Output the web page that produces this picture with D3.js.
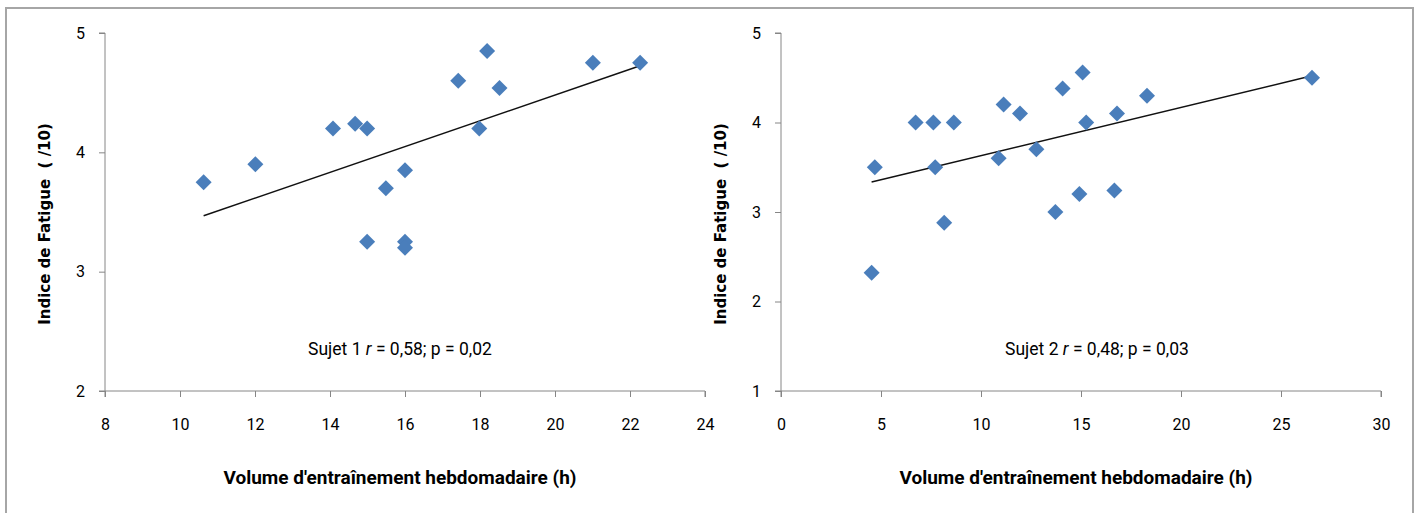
<!DOCTYPE html>
<html>
<head>
<meta charset="utf-8">
<script src="https://cdn.jsdelivr.net/npm/d3@7"></script>
<style>
  html, body { margin: 0; padding: 0; background: #fff; }
  .tick text { font-family: "Liberation Sans Narrow", "Roboto", sans-serif; font-size: 16px; fill: #000; }
</style>
</head>
<body>
<div id="chart"></div>
<script>
// Sujet 1
var volume1 = [10.63, 12.01, 14.08, 14.67, 14.99, 14.99, 15.49, 16.0, 16.0, 16.0, 17.42, 18.19, 18.52, 17.98, 21.01, 22.27]
var fatigue1 = [3.75, 3.90, 4.20, 4.24, 4.20, 3.25, 3.70, 3.85, 3.25, 3.20, 4.60, 4.85, 4.54, 4.20, 4.75, 4.75]
var xTicks1 = [8, 10, 12, 14, 16, 18, 20, 22, 24]
var yTicks1 = [2, 3, 4, 5]

// Sujet 2
var volume2 = [4.53, 4.69, 6.73, 7.62, 8.64, 7.71, 8.16, 10.88, 11.13, 11.95, 12.77, 13.72, 14.08, 14.92, 15.08, 15.26, 16.67, 16.80, 18.30, 26.55]
var fatigue2 = [2.32, 3.50, 4.00, 4.00, 4.00, 3.50, 2.88, 3.60, 4.20, 4.10, 3.70, 3.00, 4.38, 3.20, 4.56, 4.00, 3.24, 4.10, 4.30, 4.50]
var xTicks2 = [0, 5, 10, 15, 20, 25, 30]
var yTicks2 = [1, 2, 3, 4, 5]

var xTitle = "Volume d'entraînement hebdomadaire (h)"
var yTitle = "Indice de Fatigue  ( /10)"
var notes = [
    {label: "Sujet 1 ", r: "0,58", p: "0,02"},
    {label: "Sujet 2 ", r: "0,48", p: "0,03"}
]

const W = 1422, H = 513
const axisColor = "#868686"
const dotColor = "#4a7ebb"

var svg = d3.select("#chart").append("svg")
    .attr("width", W)
    .attr("height", H)

// outer frame (bottom edge sits below the picture)
svg.append("rect")
    .attr("x", 6).attr("y", 8)
    .attr("width", 1407).attr("height", 520)
    .attr("fill", "none")
    .attr("stroke", "#a6a6a6")
    .attr("stroke-width", 2)

function panel(opt) {
    var xScale = d3.scaleLinear().domain(opt.xDomain).range([opt.left, opt.right])
    var yScale = d3.scaleLinear().domain(opt.yDomain).range([opt.bottom, opt.top])

    var g = svg.append("g")

    var xAxis = d3.axisBottom(xScale).tickValues(opt.xTicks).tickSize(6).tickPadding(22).tickFormat(d3.format("d"))
    var yAxis = d3.axisLeft(yScale).tickValues(opt.yTicks).tickSize(6).tickPadding(14).tickFormat(d3.format("d"))

    var gx = g.append("g").attr("transform", `translate(0,${opt.bottom})`).call(xAxis)
    var gy = g.append("g").attr("transform", `translate(${opt.left},0)`).call(yAxis)
    gx.select(".domain").attr("stroke", axisColor).attr("d", `M${opt.left},6V0H${opt.right}V6`)
    gy.select(".domain").attr("stroke", axisColor).attr("d", `M-6,${opt.top}H0V${opt.bottom}H-6`)
    g.selectAll(".tick line").attr("stroke", axisColor)
    g.selectAll(".tick text").attr("fill", "#000")

    // linear trend from least squares
    var xs = opt.xs, ys = opt.ys
    var mx = d3.mean(xs), my = d3.mean(ys)
    var sxy = d3.sum(xs, (x, i) => (x - mx) * (ys[i] - my))
    var sxx = d3.sum(xs, x => (x - mx) * (x - mx))
    var slope = sxy / sxx, icpt = my - slope * mx
    var ext = d3.extent(xs)
    var line = d3.line().x(d => xScale(d)).y(d => yScale(icpt + slope * d))

    g.append("path")
        .datum(ext)
        .attr("d", line)
        .attr("fill", "none")
        .attr("stroke", "#111")
        .attr("stroke-width", 1.5)

    var sym = d3.symbol().type(d3.symbolSquare).size(128)
    g.selectAll(".pt")
        .data(xs.map((x, i) => [x, ys[i]]))
        .join("path")
        .attr("class", "pt")
        .attr("d", sym)
        .attr("fill", dotColor)
        .attr("transform", d => `translate(${xScale(d[0])},${yScale(d[1])}) rotate(45)`)

    // titles
    g.append("text")
        .attr("x", (opt.left + opt.right) / 2 - 5)
        .attr("y", 484)
        .attr("text-anchor", "middle")
        .attr("font-family", "'Liberation Sans Narrow', Roboto, sans-serif")
        .attr("font-weight", "bold")
        .attr("font-size", 19)
        .text(xTitle)

    g.append("text")
        .attr("transform", `translate(${opt.left - 55},${(opt.top + opt.bottom) / 2 + 12}) rotate(-90)`)
        .attr("text-anchor", "middle")
        .attr("font-family", "Verdana, 'DejaVu Sans', sans-serif")
        .attr("font-weight", "bold")
        .attr("font-size", 15)
        .style("white-space", "pre")
        .text(yTitle)

    var t = g.append("text")
        .attr("x", opt.noteX)
        .attr("y", 355)
        .attr("text-anchor", "middle")
        .attr("font-family", "'Liberation Sans Narrow', Roboto, sans-serif")
        .attr("font-size", 17.5)
        .style("white-space", "pre")
    t.append("tspan").text(opt.note.label)
    t.append("tspan").attr("font-style", "italic").text("r")
    t.append("tspan").text(` = ${opt.note.r}; p = ${opt.note.p}`)
}

panel({
    xs: volume1, ys: fatigue1, xTicks: xTicks1, yTicks: yTicks1,
    xDomain: [8, 24], yDomain: [2, 5],
    left: 105, right: 705, top: 33, bottom: 391,
    noteX: 400, note: notes[0]
})

panel({
    xs: volume2, ys: fatigue2, xTicks: xTicks2, yTicks: yTicks2,
    xDomain: [0, 30], yDomain: [1, 5],
    left: 781, right: 1381, top: 33, bottom: 391,
    noteX: 1097, note: notes[1]
})
</script>
</body>
</html>
